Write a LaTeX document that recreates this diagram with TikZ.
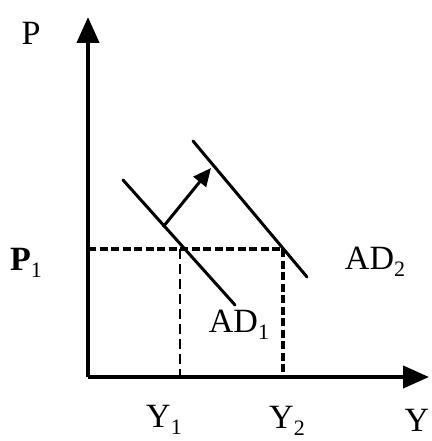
\documentclass[tikz,border=0pt]{standalone}
\usepackage{fontspec}
\setmainfont{Liberation Serif}
\usetikzlibrary{arrows.meta}
\newcommand{\sbs}[1]{\raisebox{-0.22em}{\fontsize{22}{22}\selectfont #1}}
\begin{document}
\begin{tikzpicture}[x=1pt,y=-1pt,
  axis/.style={line width=4.2pt,-{Triangle[length=26pt,width=22pt]}},
  curve/.style={line width=3pt,line cap=round},
  guide/.style={line width=3.2pt,dash pattern=on 8pt off 3.5pt},
  guidev/.style={line width=2.2pt,dash pattern=on 10pt off 5pt},
  lbl/.style={inner sep=0pt,font=\fontsize{34}{34}\selectfont}]
\useasboundingbox (0,0) rectangle (431,441);
% axes
\coordinate (O) at (88,377);
\coordinate (Ptop) at (88,17);
\coordinate (Yend) at (429,377);
\draw[axis] (O) -- (Ptop);
\draw[axis] (O) -- (Yend);
% AD curves
\coordinate (A1s) at (123,180);
\coordinate (A1e) at (235,305);
\coordinate (A2s) at (193,141);
\coordinate (A2e) at (307,277);
\draw[curve] (A1s) -- (A1e);
\draw[curve] (A2s) -- (A2e);
% equilibrium points
\coordinate (E1) at (180,249);
\coordinate (E2) at (283,249);
\coordinate (P1a) at (88,249);
\coordinate (Y1a) at (180,377);
\coordinate (Y2a) at (283,377);
\draw[guide] (P1a) -- (E2);
\draw[guidev] (E1) -- (Y1a);
\draw[guide] (E2) -- (Y2a);
% shift arrow
\coordinate (Ss) at (163,227);
\coordinate (Se) at (211,168);
\draw[line width=3pt,-{Triangle[length=18pt,width=16pt]}] (Ss) -- (Se);
% labels
\node[lbl] (P) at (31,33) {P};
\node[lbl] (P1) at (26,263) {\textbf{P}\sbs{1}};
\node[lbl] (Y1) at (164,420) {Y\sbs{1}};
\node[lbl] (Y2) at (287,421) {Y\sbs{2}};
\node[lbl] (Y) at (417,420) {Y};
\node[lbl] (AD1) at (239,325) {AD\sbs{1}};
\node[lbl] (AD2) at (375,262) {AD\sbs{2}};
\end{tikzpicture}
\end{document}
